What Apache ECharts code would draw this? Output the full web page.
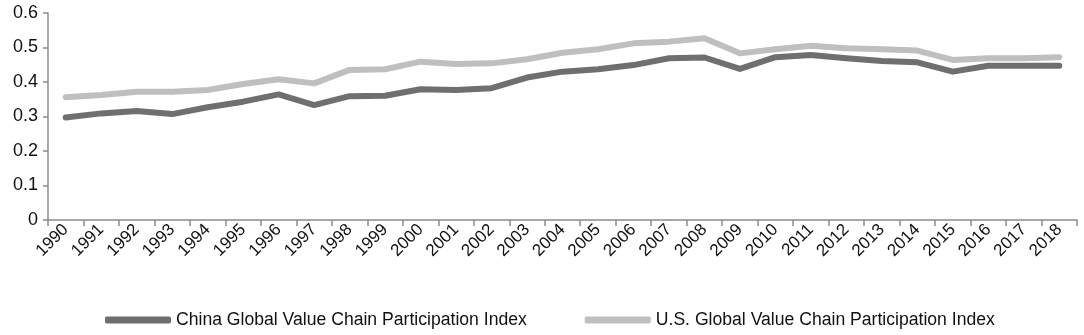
<!DOCTYPE html>
<html>
<head>
<meta charset="utf-8">
<script src="https://cdn.jsdelivr.net/npm/echarts@6/dist/echarts.min.js"></script>
<style>
  html, body { margin: 0; padding: 0; background: #fff; }
  #chart { width: 1084px; height: 335px; }
</style>
</head>
<body>
<div id="chart"></div>
<script>
var years = ['1990', '1991', '1992', '1993', '1994', '1995', '1996', '1997', '1998', '1999',
  '2000', '2001', '2002', '2003', '2004', '2005', '2006', '2007', '2008', '2009',
  '2010', '2011', '2012', '2013', '2014', '2015', '2016', '2017', '2018'];

// China GVC participation index
var chinaValues = [0.297, 0.309, 0.316, 0.307, 0.327, 0.343, 0.364, 0.333, 0.359, 0.360,
  0.379, 0.377, 0.382, 0.413, 0.430, 0.437, 0.449, 0.469, 0.471, 0.438,
  0.472, 0.478, 0.469, 0.461, 0.457, 0.430, 0.447, 0.447, 0.447];

// U.S. GVC participation index
var usValues = [0.356, 0.362, 0.372, 0.372, 0.377, 0.394, 0.408, 0.396, 0.435, 0.437,
  0.459, 0.452, 0.454, 0.466, 0.485, 0.495, 0.512, 0.517, 0.527, 0.483,
  0.495, 0.505, 0.498, 0.495, 0.491, 0.464, 0.469, 0.469, 0.472];

var chinaName = 'China Global Value Chain Participation Index';
var usName = 'U.S. Global Value Chain Participation Index';

var chart = echarts.init(document.getElementById('chart'), null, { renderer: 'canvas' });

var axisGray = '#8c8c8c';
var fontFam = '"Liberation Sans", Arial, sans-serif';

var option = {
  animation: false,
  textStyle: { fontFamily: fontFam },
  grid: {
    left: 48,
    right: 7,
    top: 13,
    bottom: 115
  },
  legend: {
    bottom: 1,
    left: 100,
    itemGap: 58,
    itemWidth: 66,
    itemHeight: 7,
    icon: 'roundRect',
    textStyle: { fontSize: 17.6, color: '#111', fontFamily: fontFam },
    data: [chinaName, usName]
  },
  xAxis: {
    type: 'category',
    data: years,
    boundaryGap: true,
    axisLine: { lineStyle: { color: axisGray, width: 1.5 } },
    axisTick: { show: true, length: 6, lineStyle: { color: axisGray, width: 1.5 } },
    axisLabel: {
      rotate: 45,
      interval: 0,
      fontSize: 17,
      color: '#111',
      margin: 7
    },
    splitLine: { show: false }
  },
  yAxis: {
    type: 'value',
    min: 0,
    max: 0.6,
    interval: 0.1,
    axisLine: { show: true, lineStyle: { color: axisGray, width: 1.5 } },
    axisTick: { show: true, length: 5, lineStyle: { color: axisGray, width: 1.5 } },
    axisLabel: {
      fontSize: 18,
      color: '#111',
      margin: 10,
      formatter: function (v) { return v === 0 ? '0' : v.toFixed(1); }
    },
    splitLine: { show: false }
  },
  series: [
    {
      name: chinaName,
      type: 'line',
      data: chinaValues,
      symbol: 'none',
      smooth: false,
      lineStyle: { color: '#6f6f6f', width: 6, cap: 'round', join: 'round' },
      itemStyle: { color: '#6f6f6f' },
      z: 3
    },
    {
      name: usName,
      type: 'line',
      data: usValues,
      symbol: 'none',
      smooth: false,
      lineStyle: { color: '#bfbfbf', width: 6, cap: 'round', join: 'round' },
      itemStyle: { color: '#bfbfbf' },
      z: 2
    }
  ]
};

chart.setOption(option);
</script>
</body>
</html>
